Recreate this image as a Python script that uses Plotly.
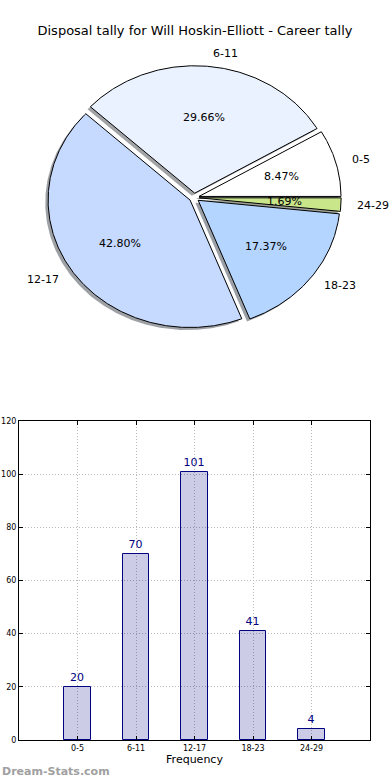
import numpy as np
import plotly.graph_objects as go

# ---------------- data ----------------
categories = ["0-5", "6-11", "12-17", "18-23", "24-29"]
counts = [20, 70, 101, 41, 4]
pie_colors = ["#ffffff", "#eaf2ff", "#c6d9ff", "#b4d5ff", "#c9e68b"]
title_text = "Disposal tally for Will Hoskin-Elliott - Career tally"
y_ticks = [0, 20, 40, 60, 80, 100, 120]

# ---------------- style ----------------
explode = 0.035
label_dist = 1.1
pct_dist = 0.6
FONT = "DejaVu Sans"

W, H = 390, 780
# pie drawing area (pixels) and its data ranges (elliptical pie like the original)
pie_cx, pie_cy, pie_rx, pie_ry = 194.2, 197.6, 142.0, 127.4
pie_top_px, pie_bot_px = 0, 400
x2_range = [-pie_cx / pie_rx, (W - pie_cx) / pie_rx]
y2_range = [-(pie_bot_px - pie_cy) / pie_ry, (pie_cy - pie_top_px) / pie_ry]

fig = go.Figure()

total = float(sum(counts))
wedges = []
start = 0.0
for c in counts:
    end = start + 360.0 * c / total
    wedges.append((start, end))
    start = end


def wedge_path(t1, t2, ox, oy):
    n = max(int(abs(t2 - t1) / 0.5) + 2, 4)
    th = np.radians(np.linspace(t1, t2, n))
    xs = np.concatenate([[ox], ox + np.cos(th), [ox]])
    ys = np.concatenate([[oy], oy + np.sin(th), [oy]])
    return xs, ys


def hex_to_rgb(h):
    h = h.lstrip("#")
    return tuple(int(h[i:i + 2], 16) for i in (0, 2, 4))


# shadows first
for (t1, t2), col in zip(wedges, pie_colors):
    mid = np.radians((t1 + t2) / 2)
    ox, oy = explode * np.cos(mid), explode * np.sin(mid)
    xs, ys = wedge_path(t1, t2, ox - 0.02, oy - 0.02)
    r, g, b = hex_to_rgb(col)
    fig.add_trace(go.Scatter(
        x=xs, y=ys, xaxis="x2", yaxis="y2", mode="lines", fill="toself",
        fillcolor=f"rgba({int(r*0.3)},{int(g*0.3)},{int(b*0.3)},0.5)",
        line=dict(width=0), hoverinfo="skip", showlegend=False))

# wedges
for (t1, t2), col, cat in zip(wedges, pie_colors, categories):
    mid = np.radians((t1 + t2) / 2)
    ox, oy = explode * np.cos(mid), explode * np.sin(mid)
    xs, ys = wedge_path(t1, t2, ox, oy)
    fig.add_trace(go.Scatter(
        x=xs, y=ys, xaxis="x2", yaxis="y2", mode="lines", fill="toself",
        fillcolor=col, line=dict(color="black", width=1),
        name=cat, hoverinfo="name", showlegend=False))

# pie labels and percentages
annotations = []
for (t1, t2), cat, c in zip(wedges, categories, counts):
    mid = np.radians((t1 + t2) / 2)
    ox, oy = explode * np.cos(mid), explode * np.sin(mid)
    xt = ox + label_dist * np.cos(mid)
    yt = oy + label_dist * np.sin(mid)
    annotations.append(dict(
        x=xt, y=yt, xref="x2", yref="y2", text=cat, showarrow=False,
        xanchor="left" if xt > 0 else "right", yanchor="middle",
        font=dict(family=FONT, size=11, color="black")))
    xp = ox + pct_dist * np.cos(mid)
    yp = oy + pct_dist * np.sin(mid)
    annotations.append(dict(
        x=xp, y=yp, xref="x2", yref="y2", text=f"{100.0 * c / total:.2f}%",
        showarrow=False, xanchor="center", yanchor="middle",
        font=dict(family=FONT, size=11, color="black")))

# bar chart
fig.add_trace(go.Bar(
    x=categories, y=counts, xaxis="x", yaxis="y", width=0.45,
    marker=dict(color="rgba(0,0,128,0.2)", line=dict(color="#000080", width=1)),
    text=[str(c) for c in counts], textposition="outside",
    textfont=dict(family=FONT, size=11, color="#000080"),
    cliponaxis=False, showlegend=False))

annotations.append(dict(
    x=0, y=1 - 771 / H, xref="paper", yref="paper", text="<b>Dream-Stats.com</b>",
    showarrow=False, xanchor="left", yanchor="middle",
    font=dict(family=FONT, size=11, color="#a0a0a0")))

axis_common = dict(
    showgrid=True, gridcolor="#b8b8b8", griddash="1px,2px", gridwidth=1,
    showline=True, linecolor="black", linewidth=1, mirror="allticks",
    ticks="inside", ticklen=4, tickcolor="black", zeroline=False,
    automargin=False,
    tickfont=dict(family=FONT, size=8, color="black"))

fig.update_layout(
    width=W, height=H, margin=dict(l=0, r=0, t=0, b=0, autoexpand=False),
    paper_bgcolor="white", plot_bgcolor="white",
    font=dict(family=FONT, color="black"),
    title=dict(text=title_text, x=0.5, xanchor="center", y=1 - 30 / H,
               yanchor="middle", font=dict(family=FONT, size=13, color="black")),
    xaxis=dict(domain=[19 / W, 370 / W], anchor="y", range=[-1, 5],
               title=dict(text="Frequency", standoff=2,
                          font=dict(family=FONT, size=11, color="black")),
               **axis_common),
    yaxis=dict(domain=[1 - 740 / H, 1 - 421 / H], anchor="x", range=[0, 120],
               tickvals=y_ticks, **axis_common),
    xaxis2=dict(domain=[0, 1], anchor="y2", range=x2_range, visible=False),
    yaxis2=dict(domain=[1 - pie_bot_px / H, 1 - pie_top_px / H], anchor="x2",
                range=y2_range, visible=False),
    annotations=annotations,
    bargap=0,
)

fig.write_html(
    "out.html",
    config={"displayModeBar": False},
    post_script="document.body.style.margin='0';document.body.style.padding='0';"
                "document.body.style.overflow='hidden';",
)
